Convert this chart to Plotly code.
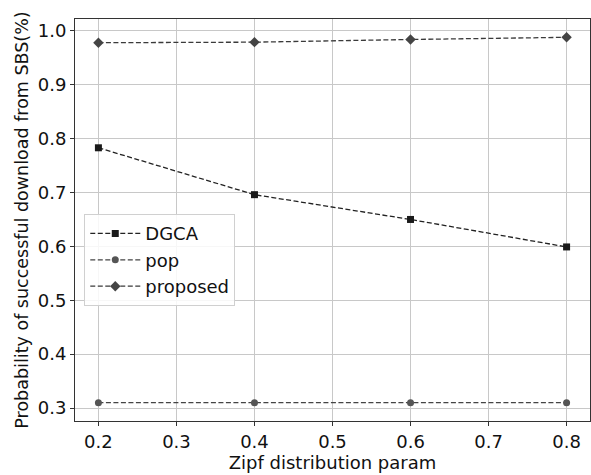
import plotly.graph_objects as go

zipf_param = [0.2, 0.4, 0.6, 0.8]
dgca = [0.783, 0.696, 0.650, 0.599]
pop = [0.310, 0.310, 0.310, 0.310]
proposed = [0.978, 0.979, 0.984, 0.988]

x_ticks = [0.2, 0.3, 0.4, 0.5, 0.6, 0.7, 0.8]
y_ticks = [0.3, 0.4, 0.5, 0.6, 0.7, 0.8, 0.9, 1.0]

series = [
    ("DGCA", dgca, "square", "#1a1a1a", "#222222", 7),
    ("pop", pop, "circle", "#555555", "#444444", 7),
    ("proposed", proposed, "diamond", "#444444", "#3a3a3a", 8),
]

fig = go.Figure()
for name, vals, sym, col, lcol, size in series:
    fig.add_trace(go.Scatter(
        x=zipf_param, y=vals, name=name, mode="lines+markers",
        line=dict(color=lcol, width=1.3, dash="5px,2.5px"),
        marker=dict(symbol=sym, color=col, size=size),
    ))

axis_common = dict(
    showline=True, linecolor="#333333", linewidth=1, mirror=True,
    showgrid=True, gridcolor="#c8c8c8", gridwidth=1,
    ticks="outside", ticklen=4, tickcolor="#333333",
    tickfont=dict(size=18, color="#111111"), zeroline=False,
)

fig.update_layout(
    width=591, height=475,
    margin=dict(l=75, r=1, t=19, b=54),
    plot_bgcolor="white", paper_bgcolor="white",
    font=dict(family="DejaVu Sans", color="#111111"),
    xaxis=dict(range=[0.17, 0.83], tickvals=x_ticks,
               ticktext=[f"{v:.1f}" for v in x_ticks],
               title=dict(text="Zipf distribution param", font=dict(size=18), standoff=5),
               **axis_common),
    yaxis=dict(range=[0.276, 1.022], tickvals=y_ticks,
               ticktext=[f"{v:.1f}" for v in y_ticks],
               title=dict(text="Probability of successful download from SBS(%)", font=dict(size=17.5), standoff=4),
               **axis_common),
    legend=dict(x=0.018, y=0.40, xanchor="left", yanchor="middle",
                bgcolor="rgba(255,255,255,0.85)", bordercolor="#d0d0d0", borderwidth=1,
                font=dict(size=18), itemwidth=50, tracegroupgap=0),
    showlegend=True,
)

fig.write_html("out.html")
